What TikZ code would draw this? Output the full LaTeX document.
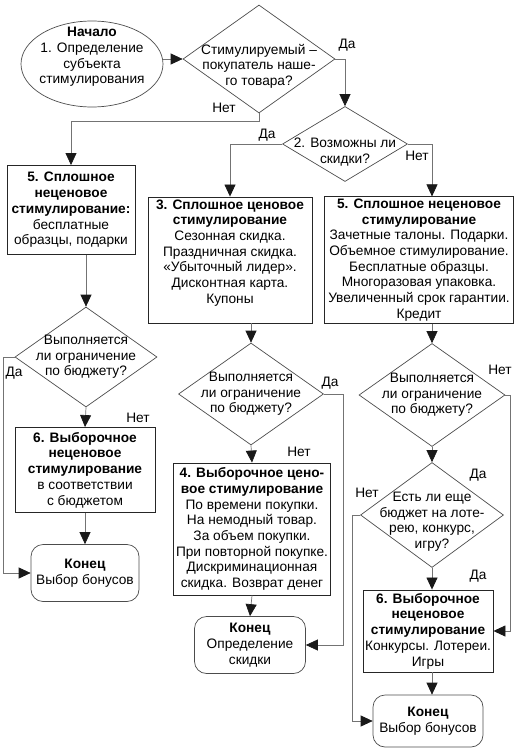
\documentclass[tikz,border=0pt]{standalone}
\usepackage{fontspec}
\setmainfont{Liberation Sans}
\usetikzlibrary{shapes.geometric,arrows.meta}

\tikzset{
	every node/.style={font=\fontsize{13.7}{15.7}\selectfont,align=center},
	box/.style={rectangle,draw=black!85,line width=0.9pt,inner sep=2pt},
	decision/.style={diamond,draw=black!70,line width=0.7pt,inner sep=-20pt},
	terminal/.style={rectangle,rounded corners=12pt,draw=black!70,line width=0.7pt},
	flow/.style={draw=black!55,line width=0.7pt,-{Triangle[length=12pt,width=11pt,color=black!90]}},
	answer/.style={inner sep=0pt},
}

\begin{document}
\begin{tikzpicture}[x=1pt,y=-1pt]
		\useasboundingbox (0,0) rectangle (528,749);

		% start and first questions
		\node[ellipse,draw=black!70,line width=0.7pt,minimum width=142pt,minimum height=86pt,inner sep=-12pt,text depth=17pt] (start) at (92,64) {\textbf{Начало}\\1. Определение\\субъекта\\стимулирования};
		\node[decision,minimum width=152pt,minimum height=108pt,text height=56pt] (q1) at (259,59) {Стимулируемый –\\покупатель наше-\\го товара?};
		\node[decision,minimum width=125pt,minimum height=75pt,text height=42pt] (q2) at (345,144) {2. Возможны ли\\скидки?};

		% solid stimulation
		\node[box,minimum width=128pt,minimum height=89pt] (all1) at (71,210) {\textbf{5. Сплошное}\\\textbf{неценовое}\\\textbf{стимулирование:}\\бесплатные\\образцы, подарки};
		\node[box,minimum width=164pt,minimum height=126pt,text depth=17pt] (price) at (230,260) {\textbf{3. Сплошное ценовое}\\\textbf{стимулирование}\\Сезонная скидка.\\Праздничная скидка.\\«Убыточный лидер».\\Дисконтная карта.\\Купоны};
		\node[box,minimum width=189pt,minimum height=126pt] (all2) at (419,260) {\textbf{5. Сплошное неценовое}\\\textbf{стимулирование}\\Зачетные талоны. Подарки.\\Объемное стимулирование.\\Бесплатные образцы.\\Многоразовая упаковка.\\Увеличенный срок гарантии.\\Кредит};

		% budget questions
		\node[decision,minimum width=142pt,minimum height=100pt] (b1) at (86,357) {Выполняется\\ли ограничение\\по бюджету?};
		\node[decision,minimum width=145pt,minimum height=102pt] (b2) at (251,394) {Выполняется\\ли ограничение\\по бюджету?};
		\node[decision,minimum width=146pt,minimum height=103pt] (b3) at (432,395) {Выполняется\\ли ограничение\\по бюджету?};
		\node[decision,minimum width=143pt,minimum height=105pt,text height=70pt] (lot) at (432,515) {Есть ли еще\\бюджет на лоте-\\рею, конкурс,\\игру?};

		% selective stimulation
		\node[box,minimum width=140pt,minimum height=85pt] (sel1) at (85,470) {\textbf{6. Выборочное}\\\textbf{неценовое}\\\textbf{стимулирование}\\в соответствии\\с бюджетом};
		\node[box,minimum width=157pt,minimum height=132pt] (sel2) at (252,529) {\textbf{4. Выборочное цено-}\\\textbf{вое стимулирование}\\По времени покупки.\\На немодный товар.\\За объем покупки.\\При повторной покупке.\\Дискриминационная\\скидка. Возврат денег};
		\node[box,minimum width=129pt,minimum height=82pt] (sel3) at (428,631) {\textbf{6. Выборочное}\\\textbf{неценовое}\\\textbf{стимулирование}\\Конкурсы. Лотереи.\\Игры};

		% end points
		\node[terminal,minimum width=108pt,minimum height=57pt] (end1) at (85,573) {\textbf{Конец}\\Выбор бонусов};
		\node[terminal,minimum width=111pt,minimum height=57pt] (end2) at (250,645) {\textbf{Конец}\\Определение\\скидки};
		\node[terminal,minimum width=110pt,minimum height=52pt] (end3) at (428,721) {\textbf{Конец}\\Выбор бонусов};

		% answers
		\node[answer] (q1yes) at (347,45) {Да};
		\node[answer] (q1no) at (224,108) {Нет};
		\node[answer] (q2yes) at (267,135) {Да};
		\node[answer] (q2no) at (417,156) {Нет};
		\node[answer] (b1yes) at (14,373) {Да};
		\node[answer] (b1no) at (138,418) {Нет};
		\node[answer] (b2yes) at (330,383) {Да};
		\node[answer] (b2no) at (299,452) {Нет};
		\node[answer] (b3no) at (500,370) {Нет};
		\node[answer] (b3yes) at (478,475) {Да};
		\node[answer] (lotno) at (367,493) {Нет};
		\node[answer] (lotyes) at (478,576) {Да};

		% main flow
		\draw[flow] (start.east |- q1.west) -- (q1.west);
		\draw[flow] (q1.east) -| (q2.north);
		\draw[flow] (q1.south) -- ++(0,8) -| (all1.north);
		\draw[flow] (q2.west) -| (price.north);
		\draw[flow] (q2.east) -| (all2.north -| b3.north);

		% into budget questions
		\draw[flow] (b1.north |- all1.south) -- (b1.north);
		\draw[flow] (b2.north |- price.south) -- (b2.north);
		\draw[flow] (b3.north |- all2.south) -- (b3.north);

		% left column
		\draw[flow] (b1.south) -- (sel1.north);
		\draw[flow] (sel1.south) -- (end1.north);
		\draw[flow] (b1.west) -- ++(-11,0) |- (end1.west);

		% middle column
		\draw[flow] (b2.south) -- (sel2.north);
		\draw[flow] (sel2.south) -- (end2.north);
		\draw[flow] (b2.east) -- ++(19,0) |- (end2.east);

		% right column
		\draw[flow] (b3.south) -- (lot.north);
		\draw[flow] (b3.east) -- ++(5,0) |- (sel3.east);
		\draw[flow] (lot.south) -- (lot.south |- sel3.north);
		\draw[flow] (lot.south |- sel3.south) -- (lot.south |- end3.north);
		\draw[flow] (lot.west) -- ++(-8,0) |- (end3.west);
	\end{tikzpicture}
\end{document}
